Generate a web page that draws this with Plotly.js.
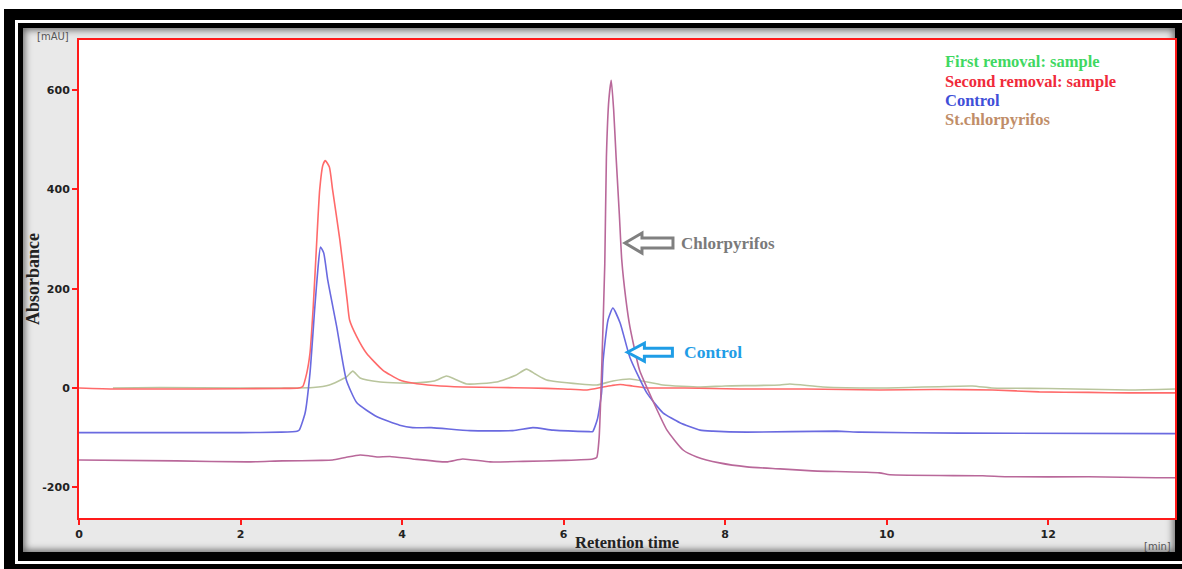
<!DOCTYPE html>
<html>
<head>
<meta charset="utf-8">
<script src="https://cdn.plot.ly/plotly-3.0.1.min.js"></script>
<style>
  html, body { margin:0; padding:0; background:#fff; width:1182px; height:569px; overflow:hidden; }
  #blk { position:absolute; left:4px; top:9px; width:1178px; height:560px; background:#000; }
  #wln { position:absolute; left:15px; top:20px; width:1180px; height:544px; border:3px solid #fff; box-sizing:border-box; }
  #gry { position:absolute; left:23px; top:28px; width:1152px; height:524px; background:#e9e9e9; box-shadow: inset 0 0 7px 2px rgba(0,0,0,0.55); }
  #plot { position:absolute; left:23px; top:28px; width:1154px; height:524px; }
</style>
</head>
<body>
<div id="blk"></div>
<div id="wln"></div>
<div id="gry"></div>
<div id="plot"></div>
<script>
// ---- Data ----
const seriesNames = ["First removal: sample", "Second removal: sample", "Control", "St.chlorpyrifos"];

const firstTime = [0.42, 1.0, 2.0, 2.49, 2.9, 3.1, 3.31, 3.39, 3.48, 3.73, 3.97, 4.13, 4.4, 4.55, 4.65, 4.8, 5.17, 5.4, 5.54, 5.65, 5.79, 6.2, 6.41, 6.61, 6.82, 7.23, 7.69, 8.0, 8.68, 8.8, 9.21, 10.0, 11.06, 11.3, 12.0, 13.0, 13.57];
const firstAbs  = [0, 1, 0, 0, 1, 6, 22, 34, 20, 12, 10, 10, 14, 24, 18, 8, 12, 25, 38, 28, 16, 8, 6, 14, 18, 6, 2, 4, 6, 8, 2, 0, 4, 0, -1, -4, -2];

const secondTime = [0, 0.45, 1.5, 2.5, 2.72, 2.77, 2.82, 2.86, 2.9, 2.94, 2.98, 3.02, 3.05, 3.1, 3.14, 3.23, 3.32, 3.35, 3.44, 3.56, 3.76, 3.97, 4.13, 4.4, 4.75, 5.2, 5.58, 6.0, 6.29, 6.49, 6.6, 6.7, 6.85, 7.03, 7.5, 8.18, 9.0, 9.91, 10.6, 11.31, 11.89, 12.5, 13.0, 13.57];
const secondAbs  = [0, -2, -2, -1, 0, 3, 30, 70, 163, 284, 399, 449, 458, 445, 399, 298, 177, 137, 103, 70, 36, 16, 10, 5, 2, 1, 0, -2, -4, 2, 5, 7, 4, 0, 0, -2, -2, -4, -3, -4, -8, -9, -10, -10];

const controlTime = [0, 1.0, 2.0, 2.5, 2.7, 2.73, 2.8, 2.86, 2.92, 2.96, 2.99, 3.03, 3.08, 3.19, 3.31, 3.44, 3.69, 3.97, 4.13, 4.36, 4.84, 5.37, 5.62, 5.87, 6.32, 6.36, 6.42, 6.47, 6.49, 6.55, 6.61, 6.7, 6.82, 7.03, 7.23, 7.44, 7.69, 7.85, 8.27, 9.38, 9.67, 10.9, 13.57];
const controlAbs  = [-90, -90, -90, -89, -87, -84, -50, 30, 163, 244, 284, 272, 217, 124, 16, -30, -58, -75, -80, -80, -86, -86, -80, -85, -88, -88, -62, -10, 56, 137, 161, 131, 62, -10, -50, -70, -85, -87, -89, -87, -89, -91, -92];

const stdTime = [0, 1.21, 2.08, 2.52, 3.0, 3.14, 3.3, 3.48, 3.6, 3.69, 3.85, 4.13, 4.55, 4.75, 5.09, 5.5, 6.0, 6.36, 6.41, 6.44, 6.47, 6.51, 6.53, 6.56, 6.59, 6.62, 6.65, 6.69, 6.72, 6.77, 6.82, 6.94, 7.1, 7.28, 7.48, 7.65, 7.93, 8.27, 8.68, 9.08, 9.91, 10.04, 11.19, 11.49, 12.5, 13.34, 13.57];
const stdAbs  = [-145, -147, -149, -147, -146, -145, -140, -135, -137, -139, -138, -143, -149, -143, -149, -148, -146, -143, -140, -100, 30, 250, 465, 580, 620, 560, 465, 350, 258, 180, 124, 36, -24, -85, -125, -139, -151, -159, -163, -167, -171, -175, -177, -179, -179, -181, -181];

const xTicks = [0, 2, 4, 6, 8, 10, 12];
const yTicks = [-200, 0, 200, 400, 600];

// ---- Styles ----
const traceColors = ["#b9c59d", "#ff6a6a", "#6a6ae0", "#b9689a"];
const legendColors = ["#3fd862", "#f02a3a", "#3f4fd8", "#c08d68"];
const serif = "Liberation Serif, Times New Roman, serif";
const sans = "DejaVu Sans, Verdana, sans-serif";

const traces = [
  {x: firstTime, y: firstAbs, name: seriesNames[0]},
  {x: secondTime, y: secondAbs, name: seriesNames[1]},
  {x: controlTime, y: controlAbs, name: seriesNames[2]},
  {x: stdTime, y: stdAbs, name: seriesNames[3]}
].map((t, i) => Object.assign(t, {
  type: "scatter", mode: "lines",
  line: {color: traceColors[i], width: 1.6, shape: "spline", smoothing: 0.5},
  hoverinfo: "skip", showlegend: false
}));

const legendY = [657, 618, 580, 540];
const annotations = seriesNames.map((n, i) => ({
  x: 10.7, y: legendY[i], xref: "x", yref: "y", xanchor: "left", yanchor: "middle",
  text: "<b>" + n + "</b>", showarrow: false,
  font: {family: serif, size: 16.5, color: legendColors[i]}
}));
annotations.push(
  {x: 7.43, y: 292, xref: "x", yref: "y", xanchor: "left", yanchor: "middle", showarrow: false,
   text: "<b>Chlorpyrifos</b>", font: {family: serif, size: 17, color: "#7a7a7a"}},
  {x: 7.46, y: 72, xref: "x", yref: "y", xanchor: "left", yanchor: "middle", showarrow: false,
   text: "<b>Control</b>", font: {family: serif, size: 17.5, color: "#1f9de6"}},
  {x: 0, y: 1, xref: "paper", yref: "paper", xanchor: "right", yanchor: "middle", xshift: -8, yshift: 4,
   showarrow: false, text: "[mAU]", font: {family: sans, size: 10, color: "#555"}},
  {x: 1, y: 0, xref: "paper", yref: "paper", xanchor: "right", yanchor: "middle", xshift: -2, yshift: -28,
   showarrow: false, text: "[min]", font: {family: sans, size: 10, color: "#555"}}
);

const shapes = [
  {type: "path", xref: "x", yref: "y", xsizemode: "pixel", ysizemode: "pixel",
   xanchor: 6.76, yanchor: 292,
   path: "M0,0 L17,10 L17,5 L48,5 L48,-5 L17,-5 L17,-10 Z",
   line: {color: "#808080", width: 3}, fillcolor: "#ffffff", layer: "above"},
  {type: "path", xref: "x", yref: "y", xsizemode: "pixel", ysizemode: "pixel",
   xanchor: 6.79, yanchor: 72,
   path: "M0,0 L17,9 L17,4 L45,4 L45,-4 L17,-4 L17,-9 Z",
   line: {color: "#1f9de6", width: 3}, fillcolor: "#ffffff", layer: "above"}
];

const axisCommon = {
  showline: true, linecolor: "#ff1a1a", linewidth: 2, mirror: true,
  ticks: "outside", tickcolor: "#ff1a1a", tickwidth: 2, ticklen: 5,
  showgrid: false, zeroline: false,
  tickfont: {family: sans, size: 11, color: "#222", weight: "bold"}
};

const layout = {
  width: 1154, height: 524,
  margin: {l: 56, r: 2, t: 12, b: 34},
  paper_bgcolor: "rgba(0,0,0,0)", plot_bgcolor: "#ffffff",
  xaxis: Object.assign({}, axisCommon, {
    range: [0, 13.57], tickvals: xTicks, ticktext: xTicks.map(String),
    title: {text: "<b>Retention time</b>", standoff: 2,
            font: {family: serif, size: 16.5, color: "#222"}}
  }),
  yaxis: Object.assign({}, axisCommon, {
    range: [-262, 701], tickvals: yTicks, ticktext: yTicks.map(String),
    title: {text: "<b>Absorbance</b>", standoff: 6,
            font: {family: serif, size: 18, color: "#222"}}
  }),
  annotations: annotations,
  shapes: shapes,
  showlegend: false
};

Plotly.newPlot("plot", traces, layout, {staticPlot: true, displayModeBar: false});
</script>
</body>
</html>
